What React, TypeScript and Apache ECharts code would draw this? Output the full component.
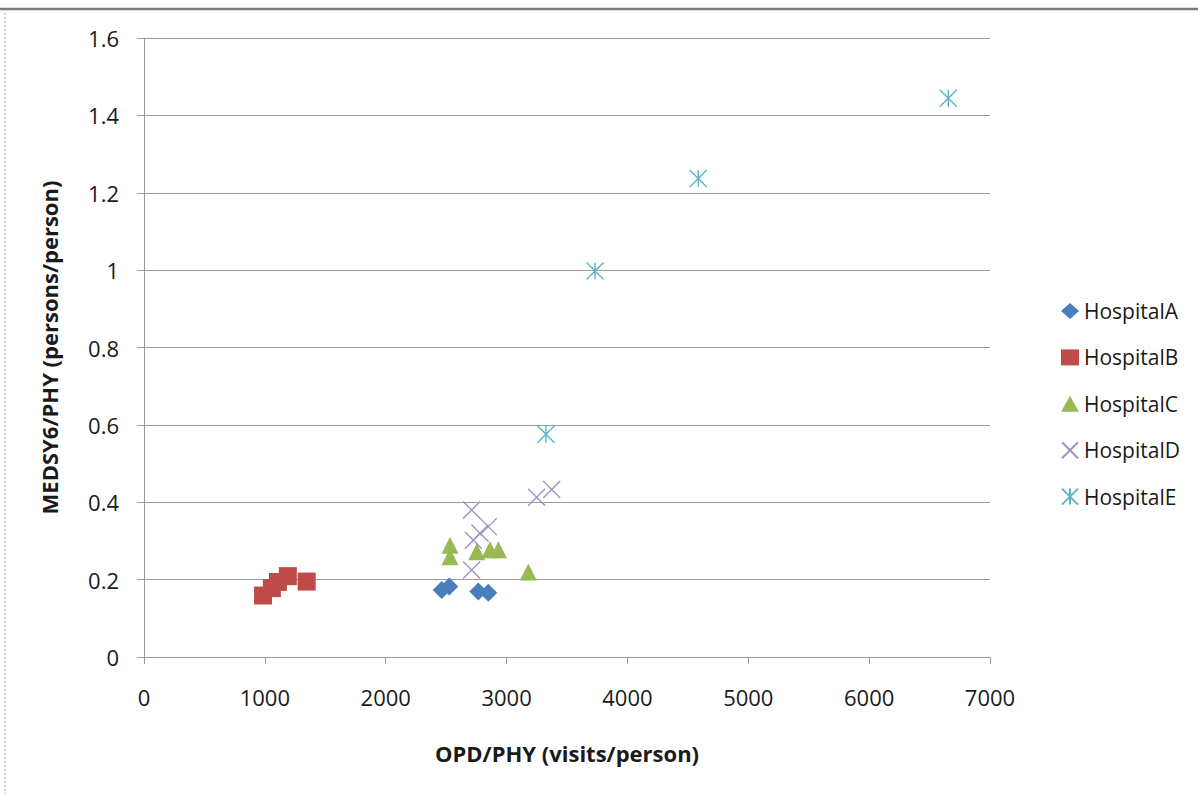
import React, { useEffect, useRef } from "react";
import * as echarts from "echarts";

const seriesNames = ["HospitalA", "HospitalB", "HospitalC", "HospitalD", "HospitalE"];

const hospitalA = [
  [2463, 0.173],
  [2526, 0.182],
  [2766, 0.169],
  [2849, 0.166],
];
const hospitalB = [
  [985, 0.159],
  [1058, 0.178],
  [1108, 0.194],
  [1190, 0.209],
  [1346, 0.195],
];
const hospitalC = [
  [2532, 0.289],
  [2532, 0.259],
  [2753, 0.272],
  [2863, 0.277],
  [2932, 0.277],
  [3180, 0.22],
];
const hospitalD = [
  [2711, 0.38],
  [2849, 0.337],
  [2780, 0.32],
  [2725, 0.302],
  [2711, 0.225],
  [3249, 0.413],
  [3373, 0.433],
];
const hospitalE = [
  [3326, 0.576],
  [3732, 0.998],
  [4586, 1.237],
  [6655, 1.444],
];

const xTitle = "OPD/PHY (visits/person)";
const yTitle = "MEDSY6/PHY (persons/person)";

const FONT = "'Open Sans', 'Noto Sans', sans-serif";
const TEXT = "#1a1a1a";
const GRID = "#9a9a9a";

export default function App() {
  const ref = useRef<HTMLDivElement | null>(null);

  useEffect(() => {
    document.body.style.margin = "0";
    const chart = echarts.init(ref.current!, null, { renderer: "svg" });
    const option = {
      animation: false,
      backgroundColor: "#ffffff",
      textStyle: { fontFamily: FONT },
      grid: { left: 144, right: 208, top: 38, bottom: 137 },
      graphic: [
        {
          type: "line",
          shape: { x1: 0, y1: 9, x2: 1198, y2: 9 },
          style: { stroke: "#7a7a7a", lineWidth: 2.5 },
          silent: true,
        },
        {
          type: "line",
          shape: { x1: 5, y1: 9, x2: 5, y2: 794 },
          style: { stroke: "#b0b0b0", lineWidth: 1.2, lineDash: [2, 2] },
          silent: true,
        },
      ],
      legend: {
        orient: "vertical",
        left: 1056,
        top: 295,
        itemWidth: 18,
        itemHeight: 16,
        itemGap: 24.4,
        textStyle: { fontSize: 21, color: TEXT, fontFamily: FONT, lineHeight: 22 },
        data: seriesNames,
      },
      xAxis: {
        type: "value",
        min: 0,
        max: 7000,
        interval: 1000,
        name: xTitle,
        nameLocation: "middle",
        nameGap: 85,
        nameTextStyle: { fontSize: 22, fontWeight: "bold", color: TEXT, fontFamily: FONT },
        axisLine: { show: true, onZero: false, lineStyle: { color: GRID, width: 1 } },
        axisTick: { show: true, inside: false, length: 7, lineStyle: { color: GRID } },
        axisLabel: {
          fontSize: 22,
          color: TEXT,
          margin: 29,
          fontFamily: FONT,
          formatter: (v: number) => String(v),
        },
        splitLine: { show: false },
      },
      yAxis: {
        type: "value",
        min: 0,
        max: 1.6,
        interval: 0.2,
        name: yTitle,
        nameLocation: "middle",
        nameGap: 84,
        nameRotate: 90,
        nameTextStyle: { fontSize: 22, fontWeight: "bold", color: TEXT, fontFamily: FONT },
        axisLine: { show: true, onZero: false, lineStyle: { color: GRID, width: 1 } },
        axisTick: { show: true, inside: false, length: 7, lineStyle: { color: GRID } },
        axisLabel: { fontSize: 22, color: TEXT, margin: 25, fontFamily: FONT },
        splitLine: { show: true, lineStyle: { color: GRID, width: 1 } },
      },
      series: [
        {
          name: seriesNames[0],
          type: "scatter",
          data: hospitalA,
          symbol: "diamond",
          symbolSize: 18,
          itemStyle: { color: "#4a7ebb", opacity: 1 },
        },
        {
          name: seriesNames[1],
          type: "scatter",
          data: hospitalB,
          symbol: "rect",
          symbolSize: 18,
          itemStyle: { color: "#be4b48", opacity: 1 },
        },
        {
          name: seriesNames[2],
          type: "scatter",
          data: hospitalC,
          symbol: "triangle",
          symbolSize: 17,
          itemStyle: { color: "#98b954", opacity: 1 },
        },
        {
          name: seriesNames[3],
          type: "scatter",
          data: hospitalD,
          symbol: "path://M0,0L10,10M10,0L0,10",
          symbolSize: 17,
          itemStyle: { color: "rgba(0,0,0,0)", borderColor: "#a391c6", borderWidth: 1.4, opacity: 1 },
        },
        {
          name: seriesNames[4],
          type: "scatter",
          data: hospitalE,
          symbol: "path://M0,0L10,10M10,0L0,10M5,0L5,10",
          symbolSize: 17,
          itemStyle: { color: "rgba(0,0,0,0)", borderColor: "#5ab4cc", borderWidth: 1.4, opacity: 1 },
        },
      ],
    };
    chart.setOption(option as any);
    return () => {
      chart.dispose();
    };
  }, []);

  return <div ref={ref} style={{ width: 1198, height: 794 }} />;
}
